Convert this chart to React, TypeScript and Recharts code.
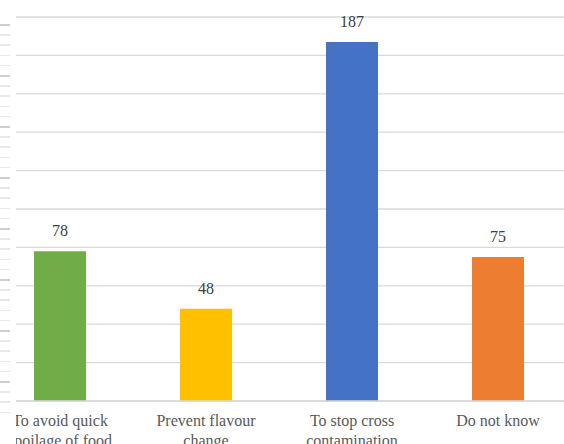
import React from "react";
import { BarChart, Bar, XAxis, YAxis, CartesianGrid, LabelList, Cell, Text } from "recharts";

const categories = [
  "To avoid quick spoilage of food",
  "Prevent flavour change",
  "To stop cross contamination",
  "Do not know",
];
const counts = [78, 48, 187, 75];
const barColors = ["#70AD47", "#FFC000", "#4472C4", "#ED7D31"];
const yTicks = [0, 20, 40, 60, 80, 100, 120, 140, 160, 180, 200];

const data = categories.map((name, i) => ({ name, value: counts[i] }));

const FONT = "Liberation Serif";

const CategoryTick = (props: any) => {
  const { x, y, payload } = props;
  return (
    <Text
      x={x}
      y={y}
      dy={6}
      width={125}
      textAnchor="middle"
      verticalAnchor="start"
      lineHeight="1.2em"
      fontSize={16}
      fontFamily={FONT}
      style={{ fontFamily: FONT }}
      fill="#595959"
    >
      {payload.value}
    </Text>
  );
};

export default function App() {
  return (
    <div
      style={{
        position: "absolute",
        left: 0,
        top: 0,
        width: 564,
        height: 444,
        overflow: "hidden",
        background: "#ffffff",
        fontFamily: FONT,
      }}
    >
      <div style={{ position: "absolute", left: -13, top: 0 }}>
        <BarChart
          width={584}
          height={444}
          data={data}
          margin={{ top: 17, right: 0, left: 0, bottom: 0 }}
          style={{ fontFamily: FONT }}
        >
          <CartesianGrid vertical={false} stroke="#d9d9d9" strokeWidth={1.3} />
          <YAxis hide domain={[0, 200]} ticks={yTicks} />
          <XAxis
            dataKey="name"
            height={43}
            interval={0}
            tickLine={false}
            axisLine={{ stroke: "#d9d9d9", strokeWidth: 1.3 }}
            tick={<CategoryTick />}
          />
          <Bar dataKey="value" barSize={52} isAnimationActive={false}>
            {data.map((d, i) => (
              <Cell key={d.name} fill={barColors[i]} />
            ))}
            <LabelList
              dataKey="value"
              position="top"
              offset={15}
              fontSize={16}
              fontFamily={FONT}
              style={{ fontFamily: FONT }}
              fill="#404040"
            />
          </Bar>
        </BarChart>
      </div>
      <div
        style={{
          position: "absolute",
          left: 0,
          top: 0,
          width: 16,
          height: 444,
          background: "#ffffff",
        }}
      >
        <div
          style={{
            position: "absolute",
            left: 0,
            top: 24,
            width: 10,
            height: 392,
            backgroundImage:
              "repeating-linear-gradient(to bottom, #cfcfcf 0px, #cfcfcf 1.6px, transparent 1.6px, transparent 51px), repeating-linear-gradient(to bottom, #e8e8e8 0px, #e8e8e8 1.4px, transparent 1.4px, transparent 10.2px)",
          }}
        />
      </div>
    </div>
  );
}
